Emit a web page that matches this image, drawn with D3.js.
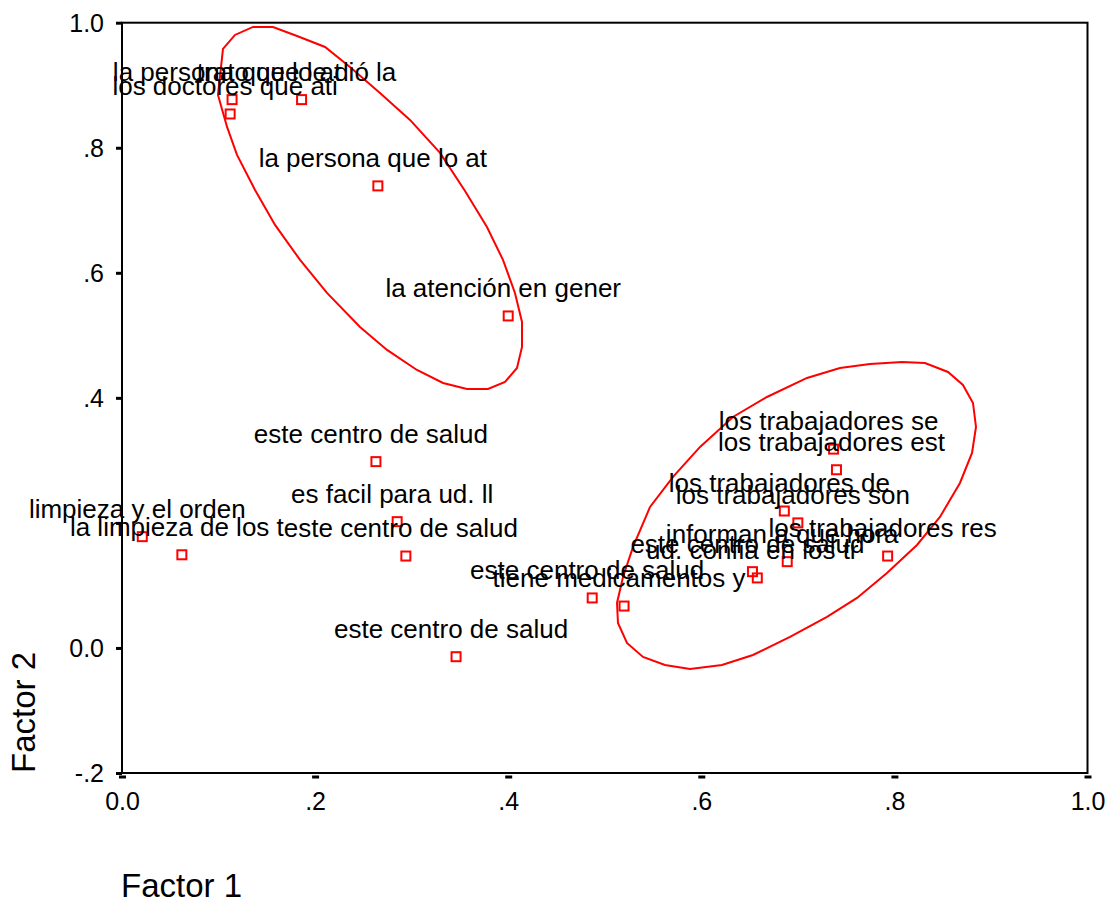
<!DOCTYPE html>
<html>
<head>
<meta charset="utf-8">
<script src="https://cdn.jsdelivr.net/npm/d3@7"></script>
<style>
  body { margin: 0; background: #fff; }
  text { font-family: "Liberation Sans", Arial, sans-serif; fill: #000; }
</style>
</head>
<body>
<script>
// item labels (truncated as in the original output)
var labels = [
  "la persona que lo at", "trato que le dió la", "los doctores que ati",
  "la persona que lo at", "la atención en gener", "este centro de salud",
  "es facil para ud. ll", "este centro de salud", "limpieza y el orden",
  "la limpieza de los t", "este centro de salud", "este centro de salud",
  "tiene medicamentos y", "los trabajadores se", "los trabajadores est",
  "los trabajadores de", "los trabajadores son", "los trabajadores res",
  "informan a que hora", "este centro de salud", "ud. confia en los tr"
];
var factor1 = [0.114, 0.186, 0.112, 0.265, 0.400, 0.263, 0.285, 0.294, 0.021,
  0.062, 0.346, 0.487, 0.520, 0.737, 0.740, 0.686, 0.700, 0.793, 0.689, 0.653, 0.658];
var factor2 = [0.877, 0.877, 0.854, 0.739, 0.531, 0.298, 0.202, 0.147, 0.178,
  0.149, -0.014, 0.080, 0.067, 0.318, 0.285, 0.219, 0.200, 0.147, 0.138, 0.122, 0.112];

var xTicks = [0, 0.2, 0.4, 0.6, 0.8, 1.0],
    xTickLabels = ["0.0", ".2", ".4", ".6", ".8", "1.0"];
var yTicks = [-0.2, 0, 0.2, 0.4, 0.6, 0.8, 1.0],
    yTickLabels = ["-.2", "0.0", "", ".4", ".6", ".8", "1.0"];

// hand-drawn group outlines (vertices in factor units)
var ring1x = [0.1357, 0.1564, 0.1813, 0.2103, 0.2361, 0.2672, 0.2983, 0.3294, 0.3553, 0.3780,
  0.3946, 0.4070, 0.4143, 0.4143, 0.4091, 0.3967, 0.3791, 0.3573, 0.3325, 0.3055, 0.2745,
  0.2465, 0.2123, 0.1844, 0.1585, 0.1378, 0.1191, 0.1088, 0.0994, 0.1046, 0.1170];
var ring1y = [0.9932, 0.9932, 0.9788, 0.9612, 0.9292, 0.8876, 0.8445, 0.7917, 0.7309, 0.6733,
  0.6206, 0.5678, 0.5214, 0.4814, 0.4478, 0.4254, 0.4142, 0.4142, 0.4238, 0.4446, 0.4766,
  0.5134, 0.5678, 0.6206, 0.6766, 0.7325, 0.7885, 0.8333, 0.8845, 0.9580, 0.9804];
var ring2x = [0.8079, 0.8317, 0.8555, 0.8710, 0.8814, 0.8845, 0.8804, 0.8679, 0.8472, 0.8234,
  0.7923, 0.7613, 0.7302, 0.6919, 0.6535, 0.6214, 0.5883, 0.5624, 0.5396, 0.5230, 0.5137,
  0.5127, 0.5189, 0.5293, 0.5469, 0.5707, 0.5987, 0.6328, 0.6680, 0.7095, 0.7436, 0.7747];
var ring2y = [0.4574, 0.4558, 0.4414, 0.4206, 0.3918, 0.3534, 0.3119, 0.2639, 0.2095, 0.1647,
  0.1200, 0.0800, 0.0496, 0.0176, -0.0112, -0.0272, -0.0336, -0.0272, -0.0144, 0.0080, 0.0400,
  0.0720, 0.1136, 0.1615, 0.2255, 0.2735, 0.3215, 0.3694, 0.4014, 0.4318, 0.4478, 0.4542];

var width = 1111,
    height = 903;

var x = d3.scaleLinear().domain([0, 1]).range([122, 1087.5]);
var y = d3.scaleLinear().domain([-0.2, 1]).range([773, 22.7]);

var svg = d3.select("body").append("svg")
    .attr("width", width)
    .attr("height", height);

// frame
svg.append("rect")
    .attr("x", x(0)).attr("y", y(1))
    .attr("width", x(1) - x(0)).attr("height", y(-0.2) - y(1))
    .attr("fill", "none").attr("stroke", "#000").attr("stroke-width", 2);

// axes
var yAxis = svg.append("g")
    .attr("transform", "translate(" + x(0) + ",0)")
    .call(d3.axisLeft(y).tickValues(yTicks).tickSize(6)
      .tickFormat(function(d, i) { return yTickLabels[i]; }));
yAxis.select(".domain").remove();
yAxis.selectAll(".tick line").attr("stroke-width", 3);
yAxis.selectAll(".tick text")
    .attr("x", -18).attr("dy", "0.35em")
    .style("font-size", "25px").style("font-family", "Liberation Sans, Arial, sans-serif");

var xAxis = svg.append("g")
    .attr("transform", "translate(0," + y(-0.2) + ")")
    .call(d3.axisBottom(x).tickValues(xTicks)
      .tickFormat(function(d, i) { return xTickLabels[i]; }));
xAxis.select(".domain").remove();
xAxis.selectAll(".tick line")
    .attr("x1", -3.5).attr("x2", 3.5).attr("y1", 4).attr("y2", 4)
    .attr("stroke-width", 3);
xAxis.selectAll(".tick text")
    .attr("y", 19).attr("dy", "0.71em")
    .style("font-size", "25px").style("font-family", "Liberation Sans, Arial, sans-serif");

// outlines
function ring(xs, ys) {
  return d3.line().x(function(d) { return x(xs[d]); }).y(function(d) { return y(ys[d]); })
    .curve(d3.curveLinearClosed)(d3.range(xs.length));
}
svg.append("path").attr("d", ring(ring1x, ring1y))
    .attr("fill", "none").attr("stroke", "#f00").attr("stroke-width", 2);
svg.append("path").attr("d", ring(ring2x, ring2y))
    .attr("fill", "none").attr("stroke", "#f00").attr("stroke-width", 2);

// points
var idx = d3.range(labels.length);
svg.selectAll("rect.pt")
    .data(idx)
  .enter().append("rect")
    .attr("class", "pt")
    .attr("x", function(i) { return x(factor1[i]) - 4.5; })
    .attr("y", function(i) { return y(factor2[i]) - 4.5; })
    .attr("width", 9).attr("height", 9)
    .attr("fill", "none").attr("stroke", "#f00").attr("stroke-width", 2);

svg.selectAll("text.lbl")
    .data(idx)
  .enter().append("text")
    .attr("class", "lbl")
    .attr("x", function(i) { return x(factor1[i]) - 5; })
    .attr("y", function(i) { return y(factor2[i]) - 19; })
    .attr("text-anchor", "middle")
    .style("font-size", "26px")
    .text(function(i) { return labels[i]; });

// axis titles
svg.append("text")
    .attr("x", 121).attr("y", 897)
    .style("font-size", "33px")
    .text("Factor 1");
svg.append("text")
    .attr("transform", "translate(35,773) rotate(-90)")
    .style("font-size", "33px")
    .text("Factor 2");
</script>
</body>
</html>
